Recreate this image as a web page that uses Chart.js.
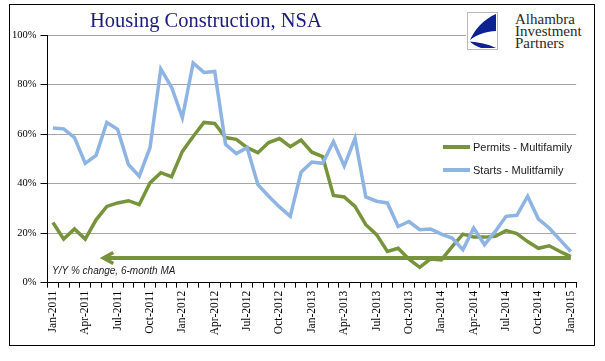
<!DOCTYPE html>
<html><head><meta charset="utf-8">
<script src="https://cdn.jsdelivr.net/npm/chart.js@4.4.1/dist/chart.umd.min.js"></script>
<style>
html,body{margin:0;padding:0;background:#fff;width:605px;height:361px;overflow:hidden;}
#frame{position:absolute;left:9px;top:4px;width:586px;height:342px;border:1px solid #000;box-sizing:border-box;}
#c{position:absolute;left:0;top:0;}
#title{position:absolute;left:90px;top:8px;font-family:'Liberation Serif',serif;font-size:20.5px;line-height:24px;color:#1b1b7a;white-space:nowrap;}
#logo{position:absolute;left:466px;top:10px;width:124px;height:42px;background:#fff;}
#logo svg{position:absolute;left:1px;top:2px;}
#logotext{position:absolute;left:49px;top:2.5px;font-family:'Liberation Serif',serif;font-size:15px;line-height:12px;color:#2a2a2a;white-space:nowrap;}
</style></head>
<body>
<div id="frame"></div>
<canvas id="c" width="605" height="361" style="width:605px;height:361px"></canvas>
<div id="title">Housing Construction, NSA</div>
<div id="logo">
<svg width="31" height="38" viewBox="0 0 31 38">
<rect x="0.5" y="0.5" width="30" height="37" fill="#fff" stroke="#b8b8b8"/>
<path d="M29 2 L29 19 C20 19.5 10 22 3 28 C8 17 17 7 29 2 Z" fill="#0d2290"/>
<path d="M3 29.5 C11 30 21 32 29 36 L14 36 C9 34 5 32 3 29.5 Z" fill="#0d2290"/>
</svg>
<div id="logotext">Alhambra<br>Investment<br>Partners</div>
</div>
<script>
const categories = [
 'Jan-2011','Feb-2011','Mar-2011','Apr-2011','May-2011','Jun-2011','Jul-2011','Aug-2011','Sep-2011','Oct-2011','Nov-2011','Dec-2011',
 'Jan-2012','Feb-2012','Mar-2012','Apr-2012','May-2012','Jun-2012','Jul-2012','Aug-2012','Sep-2012','Oct-2012','Nov-2012','Dec-2012',
 'Jan-2013','Feb-2013','Mar-2013','Apr-2013','May-2013','Jun-2013','Jul-2013','Aug-2013','Sep-2013','Oct-2013','Nov-2013','Dec-2013',
 'Jan-2014','Feb-2014','Mar-2014','Apr-2014','May-2014','Jun-2014','Jul-2014','Aug-2014','Sep-2014','Oct-2014','Nov-2014','Dec-2014',
 'Jan-2015'];
const tickLabels = ['Jan-2011','Apr-2011','Jul-2011','Oct-2011','Jan-2012','Apr-2012','Jul-2012','Oct-2012',
 'Jan-2013','Apr-2013','Jul-2013','Oct-2013','Jan-2014','Apr-2014','Jul-2014','Oct-2014','Jan-2015'];
const yTicks = [0,20,40,60,80,100];
const permits = [24.3,17.6,21.7,17.6,25.4,30.8,32.2,33.1,31.5,40.3,44.4,42.8,
 53.0,59.0,64.7,64.3,58.6,57.9,54.5,52.5,56.6,58.2,54.9,57.6,
 52.7,50.9,35.2,34.6,30.8,23.4,19.4,12.6,13.9,9.5,6.2,9.6,
 9.2,14.6,19.6,18.4,18.4,18.7,21.0,19.8,16.6,13.9,14.9,12.6,10.5];
const starts = [62.5,62.1,58.6,48.2,51.4,64.7,61.9,47.7,43.0,54.5,86.3,78.9,
 66.6,88.7,84.9,85.3,55.9,52.1,54.5,39.6,34.9,30.6,26.8,44.6,
 48.7,48.2,57.0,47.1,58.3,34.6,32.9,32.2,22.7,24.7,21.4,21.7,
 19.6,18.0,13.3,22.1,15.3,20.7,26.8,27.2,34.9,25.7,22.1,17.3,12.6];
const seriesNames = ['Permits - Multifamily','Starts - Mulitfamily'];
const refLevel = 10;
const refFrom = 'Jun-2011';
const noteText = 'Y/Y % change, 6-month MA';

const GREEN = '#77933c', BLUE = '#8db4e2';
const refIdx = categories.indexOf(refFrom);
const refLine = categories.map((c,i)=> i>=refIdx ? refLevel : null);

const overlay = {
  id:'overlay',
  afterDatasetsDraw(chart){
    const ctx = chart.ctx;
    const p = chart.getDatasetMeta(2).data[refIdx];
    const tip = p.x - 4.5;
    ctx.save();
    ctx.strokeStyle = GREEN; ctx.lineWidth = 3.5; ctx.lineCap='butt'; ctx.lineJoin='miter';
    ctx.beginPath();
    ctx.moveTo(tip+11, p.y-5.5); ctx.lineTo(tip+1, p.y); ctx.lineTo(tip+11, p.y+5.5);
    ctx.stroke();
    ctx.beginPath(); ctx.lineWidth=4; ctx.moveTo(tip+2,p.y); ctx.lineTo(p.x+1,p.y); ctx.stroke();
    ctx.restore();
  },
  afterDraw(chart){
    const ctx = chart.ctx;
    ctx.save();
    const rows = [[seriesNames[0],GREEN,147],[seriesNames[1],BLUE,170]];
    rows.forEach(r=>{
      ctx.strokeStyle=r[1]; ctx.lineWidth=4;
      ctx.beginPath(); ctx.moveTo(443,r[2]); ctx.lineTo(470,r[2]); ctx.stroke();
      ctx.fillStyle='#1a1a1a'; ctx.font='11px "Liberation Sans", Arial, sans-serif';
      ctx.textBaseline='middle'; ctx.textAlign='left';
      ctx.fillText(r[0],473,r[2]+0.5);
    });
    ctx.font='italic 10px "Liberation Sans", Arial, sans-serif';
    ctx.fillStyle='#1a1a1a'; ctx.textBaseline='middle';
    ctx.fillText(noteText,52,271);
    ctx.restore();
  }
};

new Chart(document.getElementById('c'),{
  type:'line',
  data:{labels:categories,datasets:[
    {label:seriesNames[0],data:permits,borderColor:GREEN,borderWidth:3.5,pointRadius:0,tension:0,order:1},
    {label:seriesNames[1],data:starts,borderColor:BLUE,borderWidth:3.5,pointRadius:0,tension:0,order:0},
    {label:'ref',data:refLine,borderColor:GREEN,borderWidth:4,pointRadius:0,tension:0,order:2,spanGaps:false}
  ]},
  options:{
    responsive:false,animation:false,devicePixelRatio:1,
    layout:{padding:{left:0,top:35,right:28.8,bottom:0}},
    plugins:{legend:{display:false},tooltip:{enabled:false},title:{display:false}},
    scales:{
      x:{
        offset:true,
        afterFit(s){s.height=78.3;},
        grid:{offset:true,drawOnChartArea:false,drawTicks:true,tickLength:5,tickColor:'#000',tickWidth:1},
        border:{color:'#000',width:1},
        ticks:{autoSkip:false,maxRotation:90,minRotation:90,padding:3,color:'#000',
          font:{family:'"Liberation Serif", serif',size:11.5},
          callback:(v,i)=> tickLabels.includes(categories[i]) ? categories[i] : ''}
      },
      y:{
        min:0,max:100,
        afterFit(s){s.width=47.5;},
        afterBuildTicks(s){s.ticks=yTicks.map(v=>({value:v}));},
        grid:{color:(c)=> c.tick && c.tick.value===0 ? 'rgba(0,0,0,0)' : '#a6a6a6',lineWidth:1,borderDash:[2,2],
          drawTicks:true,tickLength:7,tickColor:'#000',tickWidth:1,tickBorderDash:[]},
        border:{color:'#000',width:1},
        ticks:{padding:4,color:'#000',font:{family:'"Liberation Serif", serif',size:10.5},callback:v=>v+'%'}
      }
    }
  },
  plugins:[overlay]
});
</script>
</body></html>
